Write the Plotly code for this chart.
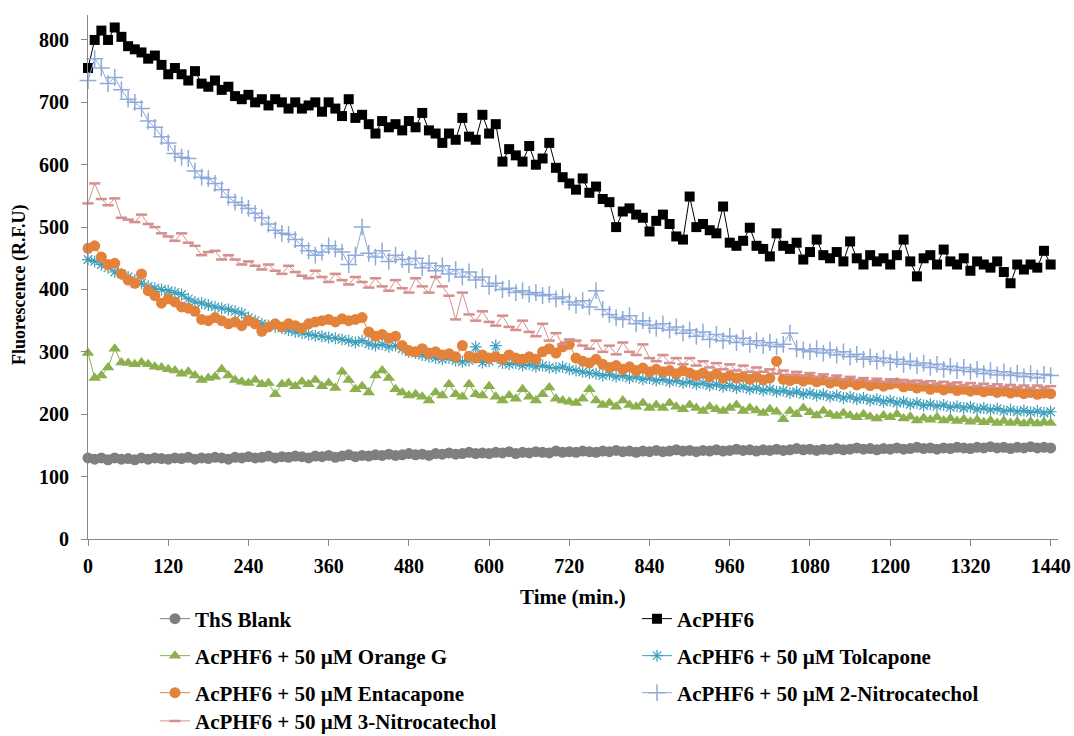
import plotly.graph_objects as go

# Time axis (min), one reading every 10 min
time_min = list(range(0, 1441, 10))

ths_blank = (
    [130, 128, 130, 127, 130, 128, 129, 127, 130, 128, 130, 129]
    + [128, 130, 129, 131, 128, 130, 129, 131, 130, 128, 131, 130]
    + [132, 130, 131, 133, 130, 132, 131, 133, 132, 130, 133, 132]
    + [134, 131, 133, 135, 132, 134, 133, 135, 134, 136, 134, 135]
    + [137, 135, 136, 134, 137, 136, 138, 136, 137, 139, 137, 138]
    + [137, 139, 138, 140, 137, 139, 138, 140, 139, 138, 141, 139]
    + [140, 139, 141, 140, 139, 141, 140, 142, 140, 141, 139, 141]
    + [140, 142, 140, 141, 143, 141, 142, 140, 142, 141, 143, 141]
    + [142, 144, 142, 143, 141, 143, 142, 144, 142, 143, 145, 143]
    + [144, 142, 144, 143, 145, 143, 144, 146, 144, 145, 143, 145]
    + [144, 146, 144, 145, 147, 145, 146, 144, 146, 145, 147, 146]
    + [145, 147, 146, 148, 146, 147, 145, 147, 146, 148, 146, 147]
    + [146]
)

acphf6 = (
    [755, 800, 815, 800, 820, 805, 790, 785, 780, 770, 775, 760]
    + [745, 755, 745, 735, 750, 730, 725, 735, 720, 725, 710, 705]
    + [712, 700, 705, 695, 705, 700, 690, 700, 690, 695, 700, 685]
    + [700, 690, 678, 705, 675, 680, 665, 650, 670, 660, 665, 655]
    + [670, 660, 683, 655, 650, 635, 650, 640, 675, 645, 640, 680]
    + [650, 665, 605, 625, 615, 605, 630, 600, 610, 635, 595, 580]
    + [570, 560, 578, 555, 565, 545, 540, 500, 525, 530, 520, 515]
    + [493, 510, 520, 505, 485, 480, 549, 500, 505, 495, 490, 533]
    + [475, 470, 478, 499, 470, 465, 453, 490, 470, 465, 475, 448]
    + [460, 480, 455, 450, 460, 445, 477, 450, 440, 455, 445, 450]
    + [440, 455, 480, 445, 421, 450, 455, 440, 464, 445, 440, 450]
    + [430, 445, 440, 435, 445, 428, 410, 440, 432, 440, 435, 462]
    + [440]
)

orange_g = (
    [298, 258, 262, 275, 305, 283, 282, 280, 283, 280, 276, 275]
    + [272, 270, 265, 268, 262, 255, 258, 260, 272, 262, 255, 252]
    + [250, 255, 248, 250, 232, 248, 250, 245, 252, 248, 255, 245]
    + [250, 242, 268, 255, 240, 245, 235, 262, 270, 258, 240, 235]
    + [230, 232, 228, 222, 235, 230, 248, 232, 228, 248, 232, 230]
    + [245, 228, 222, 230, 225, 240, 228, 222, 232, 243, 225, 222]
    + [220, 218, 225, 240, 222, 215, 218, 212, 222, 215, 212, 218]
    + [210, 215, 210, 218, 212, 208, 215, 210, 205, 212, 208, 205]
    + [210, 215, 205, 210, 206, 202, 208, 204, 192, 205, 200, 210]
    + [203, 198, 205, 200, 197, 202, 198, 195, 200, 196, 193, 198]
    + [195, 200, 193, 196, 190, 194, 191, 195, 190, 193, 189, 192]
    + [188, 191, 187, 190, 186, 189, 186, 188, 185, 188, 185, 187]
    + [186]
)

tolcapone = (
    [448, 445, 440, 435, 428, 425, 420, 415, 410, 405, 402, 400]
    + [398, 395, 392, 385, 380, 378, 375, 372, 370, 368, 365, 362]
    + [355, 350, 345, 342, 340, 338, 335, 332, 330, 328, 326, 325]
    + [323, 322, 320, 318, 315, 318, 313, 310, 312, 308, 310, 305]
    + [300, 298, 295, 292, 290, 288, 290, 286, 284, 286, 308, 283]
    + [285, 310, 282, 280, 282, 278, 280, 276, 278, 275, 274, 276]
    + [272, 270, 268, 266, 265, 262, 264, 260, 262, 258, 260, 256]
    + [258, 254, 256, 252, 254, 250, 252, 248, 250, 246, 248, 244]
    + [246, 242, 244, 240, 242, 238, 240, 236, 238, 234, 236, 232]
    + [234, 230, 232, 228, 230, 226, 228, 224, 226, 222, 224, 220]
    + [222, 218, 220, 216, 218, 214, 216, 213, 215, 211, 213, 210]
    + [212, 208, 210, 207, 209, 205, 207, 204, 206, 203, 205, 202]
    + [204]
)

entacapone = (
    [466, 470, 452, 440, 442, 425, 415, 410, 425, 398, 390, 378]
    + [385, 380, 372, 370, 365, 352, 350, 355, 350, 345, 348, 342]
    + [350, 345, 333, 340, 345, 340, 345, 342, 338, 345, 348, 350]
    + [352, 348, 353, 350, 352, 355, 332, 325, 328, 322, 325, 310]
    + [302, 300, 305, 298, 300, 295, 297, 292, 310, 293, 290, 295]
    + [290, 292, 288, 295, 290, 288, 292, 288, 300, 305, 298, 308]
    + [312, 290, 285, 282, 288, 280, 275, 278, 272, 276, 270, 274]
    + [268, 272, 268, 270, 265, 270, 266, 262, 266, 260, 265, 258]
    + [262, 258, 260, 256, 260, 255, 258, 285, 256, 254, 257, 253]
    + [256, 252, 255, 250, 253, 248, 252, 247, 250, 246, 249, 245]
    + [248, 250, 244, 246, 242, 245, 240, 243, 239, 242, 238, 240]
    + [237, 239, 236, 238, 235, 237, 234, 236, 233, 235, 232, 234]
    + [233]
)

nitro2 = (
    [735, 770, 755, 730, 740, 720, 705, 700, 690, 670, 660, 645]
    + [635, 618, 612, 610, 590, 580, 578, 570, 560, 548, 540, 535]
    + [530, 522, 515, 505, 495, 490, 488, 480, 470, 462, 455, 460]
    + [470, 465, 460, 440, 455, 500, 458, 452, 462, 445, 455, 448]
    + [440, 450, 435, 442, 430, 438, 425, 432, 420, 428, 415, 420]
    + [405, 410, 400, 402, 395, 398, 392, 395, 390, 392, 385, 388]
    + [380, 375, 382, 372, 398, 368, 360, 355, 352, 358, 345, 350]
    + [343, 338, 345, 335, 340, 330, 335, 325, 332, 320, 328, 318]
    + [325, 315, 322, 312, 318, 310, 315, 308, 312, 330, 305, 303]
    + [300, 305, 298, 303, 295, 300, 292, 296, 288, 292, 285, 290]
    + [283, 288, 280, 285, 278, 282, 275, 280, 272, 277, 270, 275]
    + [268, 272, 265, 270, 263, 268, 262, 266, 260, 265, 258, 264]
    + [262]
)

nitro3 = (
    [538, 570, 545, 535, 546, 515, 512, 508, 520, 505, 500, 490]
    + [485, 478, 490, 475, 470, 455, 460, 462, 448, 455, 448, 440]
    + [445, 438, 432, 440, 430, 425, 438, 428, 422, 418, 430, 420]
    + [412, 425, 415, 408, 420, 412, 403, 418, 405, 398, 415, 402]
    + [395, 418, 405, 395, 420, 405, 390, 352, 395, 360, 350, 365]
    + [348, 342, 358, 340, 335, 350, 332, 325, 345, 318, 330, 312]
    + [320, 318, 310, 305, 318, 300, 310, 296, 315, 300, 295, 312]
    + [290, 285, 295, 282, 290, 280, 290, 278, 285, 275, 282, 272]
    + [280, 270, 278, 268, 275, 268, 272, 265, 270, 263, 268, 262]
    + [266, 260, 264, 258, 262, 256, 260, 255, 258, 253, 257, 252]
    + [256, 251, 255, 250, 254, 249, 253, 248, 252, 247, 251, 246]
    + [250, 245, 249, 244, 248, 244, 247, 243, 246, 242, 246, 243]
    + [245]
)

x_ticks = [0, 120, 240, 360, 480, 600, 720, 840, 960, 1080, 1200, 1320, 1440]
y_ticks = [0, 100, 200, 300, 400, 500, 600, 700, 800]

FONT = "Liberation Serif, Times New Roman, serif"

styles = [
    ("ThS Blank", ths_blank, "#7F7F7F", dict(symbol="circle", size=11, color="#7F7F7F")),
    ("AcPHF6", acphf6, "#000000", dict(symbol="square", size=10, color="#000000")),
    ("AcPHF6 + 50 µM Orange G", orange_g, "#8CB04D",
     dict(symbol="triangle-up", size=11, color="#8CB04D")),
    ("AcPHF6 + 50 µM Tolcapone", tolcapone, "#3E9FBC",
     dict(symbol="asterisk-open", size=10, color="#3E9FBC", line=dict(width=1.2, color="#3E9FBC"))),
    ("AcPHF6 + 50 µM Entacapone", entacapone, "#E3823B",
     dict(symbol="circle", size=11, color="#E3823B")),
    ("AcPHF6 + 50 µM 2-Nitrocatechol", nitro2, "#8FAAD8",
     dict(symbol="cross-thin-open", size=12, color="#8FAAD8", line=dict(width=1.5, color="#8FAAD8"))),
    ("AcPHF6 + 50 µM 3-Nitrocatechol", nitro3, "#D4908E",
     dict(symbol="line-ew-open", size=8, color="#D4908E", line=dict(width=2.5, color="#D4908E"))),
]

W, H = 1074, 736
legend_pos = [
    (0.1443, 0.1590), (0.5931, 0.1590),
    (0.1443, 0.1087), (0.5931, 0.1087),
    (0.1443, 0.0584), (0.5931, 0.0584),
    (0.1443, 0.0200),
]

fig = go.Figure()
layout_legends = {}
for i, (name, vals, col, mk) in enumerate(styles):
    lname = "legend" if i == 0 else f"legend{i + 1}"
    fig.add_trace(go.Scatter(
        x=time_min, y=vals, name=name, mode="lines+markers",
        line=dict(color=col, width=1), marker=mk, cliponaxis=False,
        legend=lname, showlegend=True,
    ))
    lx, ly = legend_pos[i]
    layout_legends[lname] = dict(
        x=lx, y=ly, xref="container", yref="container",
        xanchor="left", yanchor="middle", bgcolor="rgba(0,0,0,0)",
        visible=True,
        font=dict(family=FONT, size=21, color="#000000", weight="bold"),
    )

fig.update_layout(
    width=W, height=H,
    margin=dict(l=88, r=16, t=15, b=197, autoexpand=False),
    paper_bgcolor="white", plot_bgcolor="white",
    font=dict(family=FONT, size=20, color="#000000", weight="bold"),
    showlegend=True,
    annotations=[
        dict(text="Time (min.)", xref="paper", yref="paper", x=0.5, y=-0.1107,
             xanchor="center", yanchor="middle", showarrow=False,
             font=dict(family=FONT, size=21, color="#000000", weight="bold")),
        dict(text="Fluorescence (R.F.U)", xref="paper", yref="paper", x=-0.0711, y=0.4847,
             xanchor="center", yanchor="middle", showarrow=False, textangle=-90,
             font=dict(family=FONT, size=18, color="#000000", weight="bold")),
    ],
    **layout_legends,
)

fig.update_xaxes(
    range=[0, 1451], tickvals=x_ticks, ticktext=[str(v) for v in x_ticks],
    showline=True, linecolor="#868686", linewidth=1,
    ticks="outside", ticklen=6, tickcolor="#868686", ticklabelstandoff=3,
    showgrid=False, zeroline=False, automargin=False,
    tickfont=dict(family=FONT, size=20, weight="bold"),
)
fig.update_yaxes(
    range=[0, 840], tickvals=y_ticks, ticktext=[str(v) for v in y_ticks],
    showline=True, linecolor="#868686", linewidth=1,
    ticks="outside", ticklen=6, tickcolor="#868686", ticklabelstandoff=8,
    showgrid=False, zeroline=False, automargin=False,
    tickfont=dict(family=FONT, size=20, weight="bold"),
)

fig.write_html(
    "out.html",
    config={"displayModeBar": False},
    post_script="document.body.style.margin='0';document.body.style.overflow='hidden';",
)
